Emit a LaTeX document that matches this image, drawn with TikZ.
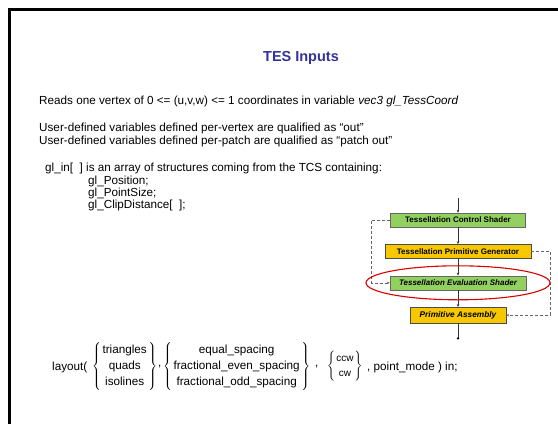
\documentclass[tikz,border=0pt]{standalone}
\usepackage{fontspec}
\setmainfont{Liberation Sans}
\usepackage{xcolor}
\usepackage{tikz}
\usetikzlibrary{arrows.meta,positioning,calc}

\definecolor{titleblue}{RGB}{51,51,153}
\definecolor{stagegreen}{RGB}{146,208,96}
\definecolor{stageyellow}{RGB}{247,200,0}

\begin{document}
\begin{tikzpicture}[
  x=1pt,y=-1pt,
  font=\fontsize{11.7}{13}\selectfont,
  txt/.style={anchor=base west,inner sep=0pt,align=left},
  shader/.style={draw=black!60,fill=stagegreen,minimum height=14pt,inner sep=1pt,font=\fontsize{8}{9}\selectfont\bfseries},
  fixed/.style={draw=black!70,fill=stageyellow,minimum height=14pt,inner sep=1pt,font=\fontsize{8}{9}\selectfont\bfseries},
  flow/.style={-{Stealth[length=3pt,width=2.5pt]},black!80,line width=0.6pt},
  loop/.style={-{Stealth[length=3pt,width=2.5pt]},black!60,densely dashed,line width=0.5pt},
  node distance=17pt
]
\useasboundingbox (0,0) rectangle (558,424);
\draw[line width=3pt] (9.5,424) -- (9.5,9.5) -- (558,9.5);

\node[font=\fontsize{14.5}{16}\selectfont\bfseries,text=titleblue] (title) at (301,58) {TES Inputs};

\node[txt] (reads) at (39,104) {Reads one vertex of 0 <= (u,v,w) <= 1 coordinates in variable \textit{vec3 gl\_TessCoord}};
\node[txt] (user) at (39,144) {User-defined variables defined per-vertex are qualified as “out”\\User-defined variables defined per-patch are qualified as “patch out”};
\node[txt] (glin) at (45,171) {gl\_in[\ \ ] is an array of structures coming from the TCS containing:};
\node[txt] (fields) at (88,208) {gl\_Position;\\[-1pt]gl\_PointSize;\\[-1pt]gl\_ClipDistance[\ \ ];};

% pipeline
\coordinate (top) at (458,198);
\node[shader,minimum width=135pt] (tcs) at (458,220) {Tessellation Control Shader};
\node[fixed,minimum width=146pt,below=of tcs] (tpg) {Tessellation Primitive Generator};
\node[shader,minimum width=136pt,below=of tpg,font=\fontsize{8}{9}\selectfont\bfseries\itshape] (tes) {Tessellation Evaluation Shader};
\node[fixed,minimum width=96pt,minimum height=16pt,below=of tes,font=\fontsize{8.3}{9}\selectfont\bfseries\itshape] (pa) {Primitive Assembly};
\coordinate[below=15pt of pa] (bottom);

\draw[flow] (top) -- (tcs);
\draw[flow] (tcs) -- (tpg);
\draw[flow] (tpg) -- (tes);
\draw[flow] (tes) -- (pa);
\draw[black!80,line width=0.6pt] (pa) -- (bottom);
\fill[black] (bottom) circle (1.3pt);

\draw[loop] (tcs.west) -- ++(-19,0) |- (tes.west);
\draw[loop] (tpg.east) -- ++(19,0) |- (pa.east);

\draw[red!85!black,line width=1.1pt] (tes.center) ellipse (92 and 17);

% layout qualifier
\renewcommand{\arraystretch}{1.25}
\node[anchor=west,inner sep=0pt] (layout) at (52,367) {layout(};
\node[anchor=west,inner sep=0pt] (prim) at (92,366) {$\left\{\begin{tabular}{@{\hspace{1.5pt}}c@{\hspace{1.5pt}}}triangles\\quads\\isolines\end{tabular}\right\}$};
\node[anchor=west,inner sep=0pt] (comma1) at (158,367) {,};
\node[anchor=west,inner sep=0pt] (spacing) at (163,366) {$\left\{\begin{tabular}{@{\hspace{1.5pt}}c@{\hspace{1.5pt}}}equal\_spacing\\fractional\_even\_spacing\\fractional\_odd\_spacing\end{tabular}\right\}$};
\node[anchor=west,inner sep=0pt] (comma2) at (315,367) {,};
\node[anchor=west,inner sep=0pt,font=\fontsize{10}{12}\selectfont] (order) at (327,366) {$\left\{\begin{tabular}{@{\hspace{1pt}}c@{\hspace{1pt}}}ccw\\cw\end{tabular}\right\}$};
\node[anchor=west,inner sep=0pt] (rest) at (367,367) {, point\_mode ) in;};
\end{tikzpicture}
\end{document}
